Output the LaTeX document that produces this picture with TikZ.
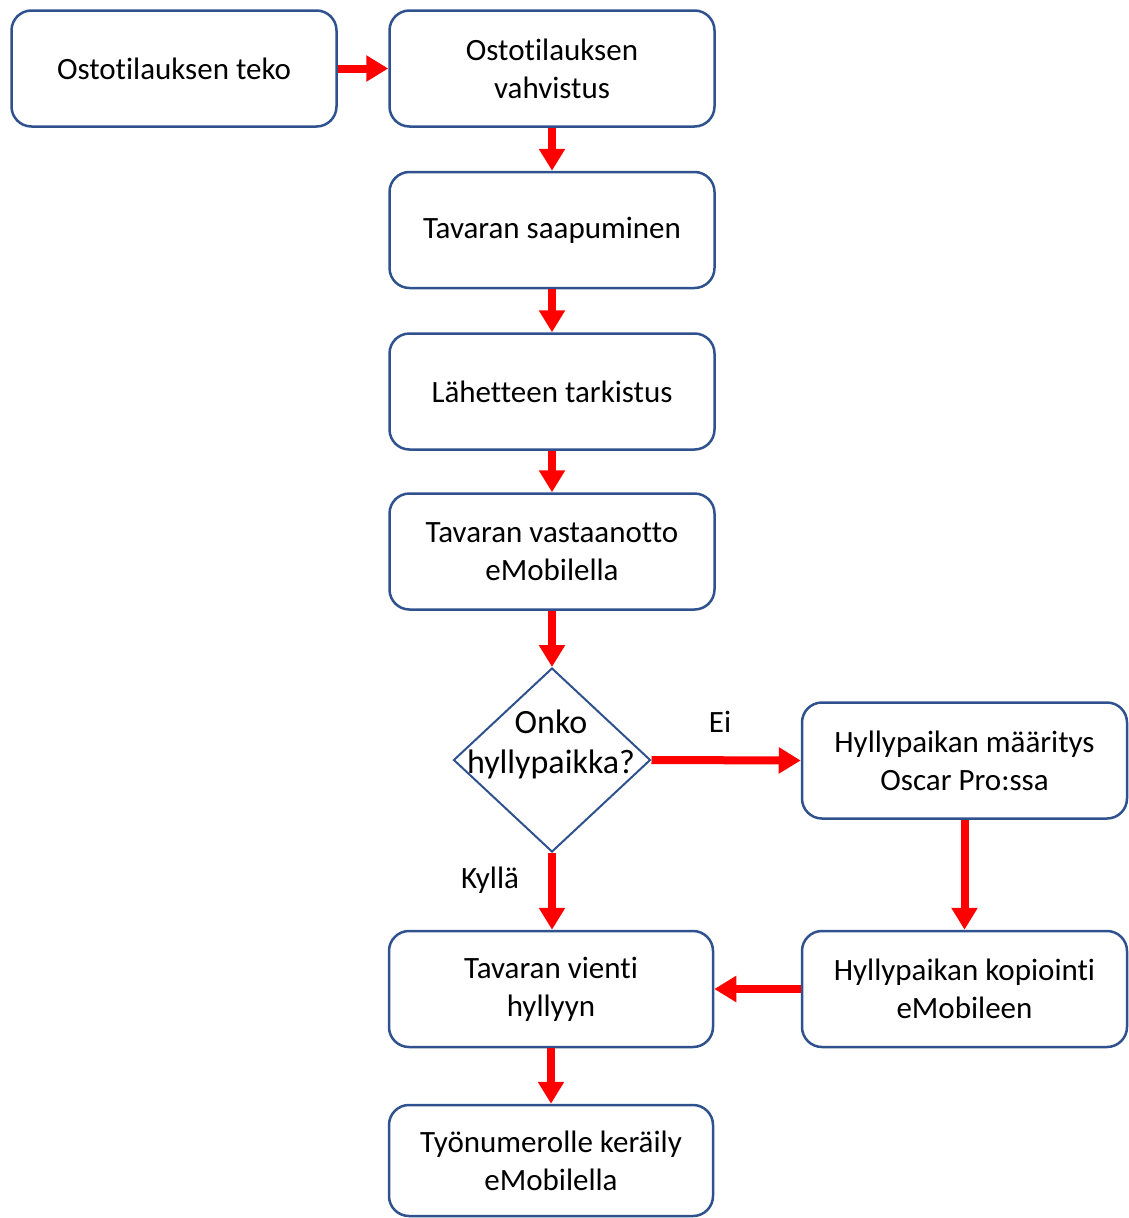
\documentclass[tikz,border=0pt]{standalone}
\usepackage{fontspec}
\setmainfont[Ligatures=NoCommon]{Carlito}
\usetikzlibrary{arrows.meta,shapes.geometric}
\definecolor{boxblue}{HTML}{2F528F}
\definecolor{arrred}{HTML}{FF0000}
\begin{document}
\begin{tikzpicture}[x=1pt,y=-1pt,
  box/.style={draw=boxblue, line width=2.5pt, rounded corners=20pt, minimum width=325pt, minimum height=116pt, align=center, inner sep=0pt, font=\fontsize{31}{38}\selectfont},
  flow/.style={draw=arrred, line width=8pt, -{Triangle[width=25pt,length=22pt]}, arrred},
  lbl/.style={font=\fontsize{31}{38}\selectfont, inner sep=0pt}]
\useasboundingbox (0,0) rectangle (1129,1218);
\node[box] (b1) at (174,68.5) {Ostotilauksen teko};
\node[box] (b2) at (552,68.5) {Ostotilauksen\\vahvistus};
\node[box] (b3) at (552,230) {Tavaran saapuminen};
\node[box] (b4) at (552,391.5) {Lähetteen tarkistus};
\node[box] (b5) at (552,551.5) {Tavaran vastaanotto\\eMobilella};
\node[diamond, draw=boxblue, line width=2pt, minimum width=197pt, minimum height=184pt, inner sep=0pt] (d) at (552,760) {};
\node[lbl, align=center, font=\fontsize{34}{40}\selectfont] (dt) at (551,744) {Onko\\hyllypaikka?};
\node[box] (b7) at (964.5,760.5) {Hyllypaikan määritys\\Oscar Pro:ssa};
\node[box, minimum width=324pt] (b8) at (551,989) {Tavaran vienti\\hyllyyn};
\node[box] (b9) at (964.5,989) {Hyllypaikan kopiointi\\eMobileen};
\node[box, minimum width=324pt, minimum height=111pt] (b10) at (551,1160.5) {Työnumerolle keräily\\eMobilella};
\node[lbl] (ei) at (720,722) {Ei};
\node[lbl] (kylla) at (490,880) {Kyllä};
\draw[flow] (b1.east) -- (b2.west);
\draw[flow] (b2.south) -- (b3.north);
\draw[flow] (b3.south) -- (b4.north);
\draw[flow] (b4.south) -- (b5.north);
\draw[flow] (b5.south) -- (d.north);
\draw[flow] (d.east) -- (b7.west);
\draw[flow] (d.south) -- (b8.north -| d.south);
\draw[flow] (b7.south) -- (b9.north);
\draw[flow] (b9.west) -- (b8.east);
\draw[flow] (b8.south) -- (b10.north);
\end{tikzpicture}
\end{document}
